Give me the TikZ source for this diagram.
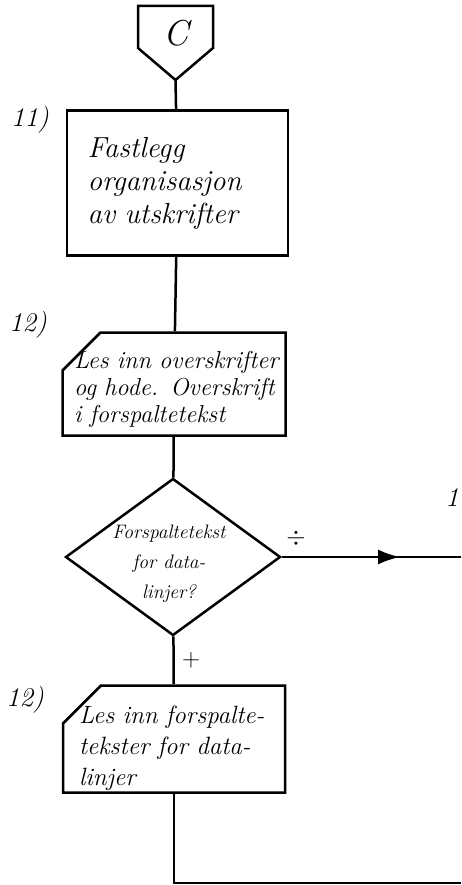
\documentclass[tikz,border=0pt]{standalone}
\usepackage{fontspec}
\usetikzlibrary{arrows.meta}
\usetikzlibrary{shapes.geometric}
\usetikzlibrary{shapes.misc}
\usetikzlibrary{decorations.markings}

\begin{document}
\begin{tikzpicture}[x=1pt, y=-1pt, line width=2.5pt,
		stepno/.style={font=\fontsize{27}{27}\selectfont\itshape},
		procbox/.style={draw, rectangle, inner sep=0pt, align=left},
		cardbox/.style={draw, chamfered rectangle, chamfered rectangle corners=north west,
			chamfered rectangle xsep=18pt, chamfered rectangle ysep=20pt, inner sep=0pt},
		cardtext/.style={align=left},
		decision/.style={draw, diamond, inner sep=0pt, minimum width=215pt, minimum height=157pt},
		flow/.style={line width=2.5pt}]
				\useasboundingbox (0,0) rectangle (461,885);

				% connector C
				\draw (138,6) -- (213,6) -- (213,48) -- (175.5,80) -- (138,48) -- cycle;
				\node[font=\fontsize{36}{36}\selectfont\itshape] (conC) at (176,33) {C};
				\coordinate (ctip) at (175.5,80);

				\node[stepno] (no11) at (30,120) {11)};
				\node[procbox, minimum width=221pt, minimum height=145pt, text width=180pt,
					font=\fontsize{29}{33}\selectfont\itshape] (fast) at (177.5,183)
					{Fastlegg\\organisasjon\\av utskrifter};

				\node[stepno] (no12a) at (28,325) {12)};
				\node[cardbox, label={[cardtext, text width=208pt, xshift=4pt, yshift=-5pt,
					font=\fontsize{24.5}{27}\selectfont\itshape]center:Les inn overskrifter\\og hode. Overskrift\\i forspaltetekst}]
					(lesOver) at (174,384) {\rule{187pt}{0pt}\rule{0pt}{63pt}};

				\node[decision, label={[align=center, xshift=-4pt, yshift=-7pt, font=\fontsize{19.5}{30}\selectfont\itshape]center:Forspaltetekst\\for data-\\linjer?}] (dia) at (173,557) {};

				\node[stepno] (no12b) at (25,700) {12)};
				\node[cardbox, label={[cardtext, text width=190pt, yshift=-9pt,
					font=\fontsize{25}{31}\selectfont\itshape]center:Les inn forspalte-\\tekster for data-\\linjer}]
					(lesFor) at (174,739) {\rule{186pt}{0pt}\rule{0pt}{67pt}};

				\node[stepno, anchor=east, inner sep=1pt] (no13) at (461,498) {1};

				\coordinate (exitR) at (461,557);
				\coordinate (bendB) at (174,883);
				\coordinate (exitB) at (461,883);

				\draw[flow] (ctip) -- (fast);
				\draw[flow] (fast) -- (lesOver);
				\draw[flow] (lesOver) -- (dia);
				\draw[flow] (dia) -- node[right, font=\fontsize{24}{24}\selectfont, xshift=4pt] (plus) {$+$} (lesFor);
				\draw[flow, postaction={decorate}, decoration={markings,
					mark=at position 0.66 with {\arrow{Latex[length=22pt, width=15pt]}}}]
					(dia.east) -- node[above, pos=0.08, font=\fontsize{26}{26}\selectfont, yshift=6pt] (minus) {$\div$} (exitR);
				\draw[flow] (lesFor) -- (bendB) -- (exitB);
			\end{tikzpicture}
\end{document}
